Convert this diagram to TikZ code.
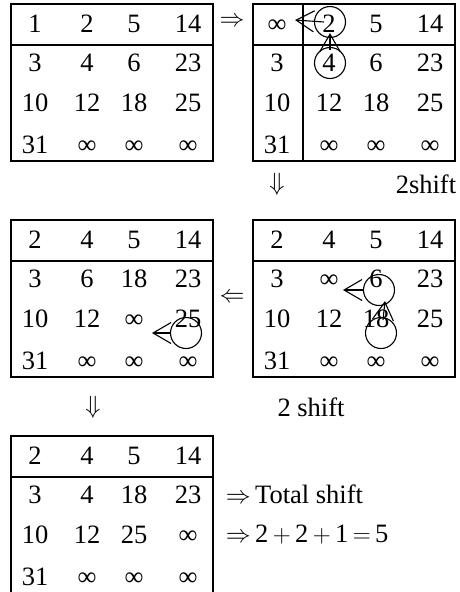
\documentclass[tikz,border=0pt]{standalone}
\usepackage{fontspec}
\setmainfont{Liberation Serif}
\usepackage{tikz}
\usetikzlibrary{arrows.meta}

% one 4x4 table: name, left x, top y, entries
\newcommand{\mtab}[4]{%
  \draw (#2,#3) rectangle ++(202,157);
  \draw (#2,#3+41) -- ++(202,0);
  \foreach \v [count=\i from 0] in {#4} {
    \pgfmathtruncatemacro\col{mod(\i,4)}
    \pgfmathtruncatemacro\row{div(\i,4)}
    \pgfmathsetmacro\cx{#2+{24,76,123,177}[\col]}
    \pgfmathsetmacro\cy{#3+{20,59,99,141}[\row]}
    \node[cell] (#1-\row\col) at (\cx,\cy) {\v};
  }}

\begin{document}
\begin{tikzpicture}[x=1pt,y=-1pt,line width=1.1pt,
  cell/.style={inner sep=0pt,text height=17.5pt,text depth=0pt},
  ring/.style={draw,circle,minimum size=31pt,inner sep=0pt},
  barb/.style={-{Straight Barb[length=18pt,width=21pt,line width=1.1pt]}},
  every node/.style={font=\fontsize{26.5}{30}\selectfont}]
	%\draw[help lines] (0,0) grid[step=20] (459,592);
	\useasboundingbox (0,0) rectangle (459,592);
	\mtab{t1}{11}{4}{1,2,5,14,3,4,6,23,10,12,18,25,31,∞,∞,∞}
	\mtab{t2}{253}{4}{∞,2,5,14,3,4,6,23,10,12,18,25,31,∞,∞,∞}
	\mtab{t3}{11}{220}{2,4,5,14,3,6,18,23,10,12,∞,25,31,∞,∞,∞}
	\mtab{t4}{253}{220}{2,4,5,14,3,∞,6,23,10,12,18,25,31,∞,∞,∞}
	\mtab{t5}{11}{436}{2,4,5,14,3,4,18,23,10,12,25,∞,31,∞,∞,∞}
	\draw (303,4) -- (303,161);
	% steps between the tables
	\node (r1) at (232,22) {$\Rightarrow$};
	\node (d1) at (277,184) {$\Downarrow$};
	\node (s1) at (426,184) {2shift};
	\node (l1) at (232,298) {$\Leftarrow$};
	\node (d2) at (93,407) {$\Downarrow$};
	\node (s2) at (311,407) {2 shift};
	\node[anchor=west] (tot) at (222,494) {$\Rightarrow$\,Total shift};
	\node[anchor=west] (sum) at (222,535) {$\Rightarrow$\,2\,$+$\,2\,$+$\,1\,$=$\,5};
	% circled entries and moves
	\node[ring] (c2a) at (330,22) {};
	\node[ring] (c2b) at (330,63) {};
	\node[ring] (c4a) at (379,290) {};
	\node[ring] (c4b) at (381,333) {};
	\node[ring] (c3a) at (186,333) {};
	\coordinate (p1) at (295,20);
	\coordinate (p4) at (343,290);
	\coordinate (p3) at (152,333);
	\draw[barb] ([xshift=10pt]c2a.west) -- (p1);
	\draw[barb] ([yshift=-3pt]c2b.north) -- ([yshift=5pt]c2a.south);
	\draw[barb] (c4a.west) -- (p4);
	\draw[barb] ([shift={(2pt,-3pt)}]c4b.north) -- ([shift={(6pt,5pt)}]c4a.south);
	\draw[barb] (c3a.west) -- (p3);
\end{tikzpicture}
\end{document}
